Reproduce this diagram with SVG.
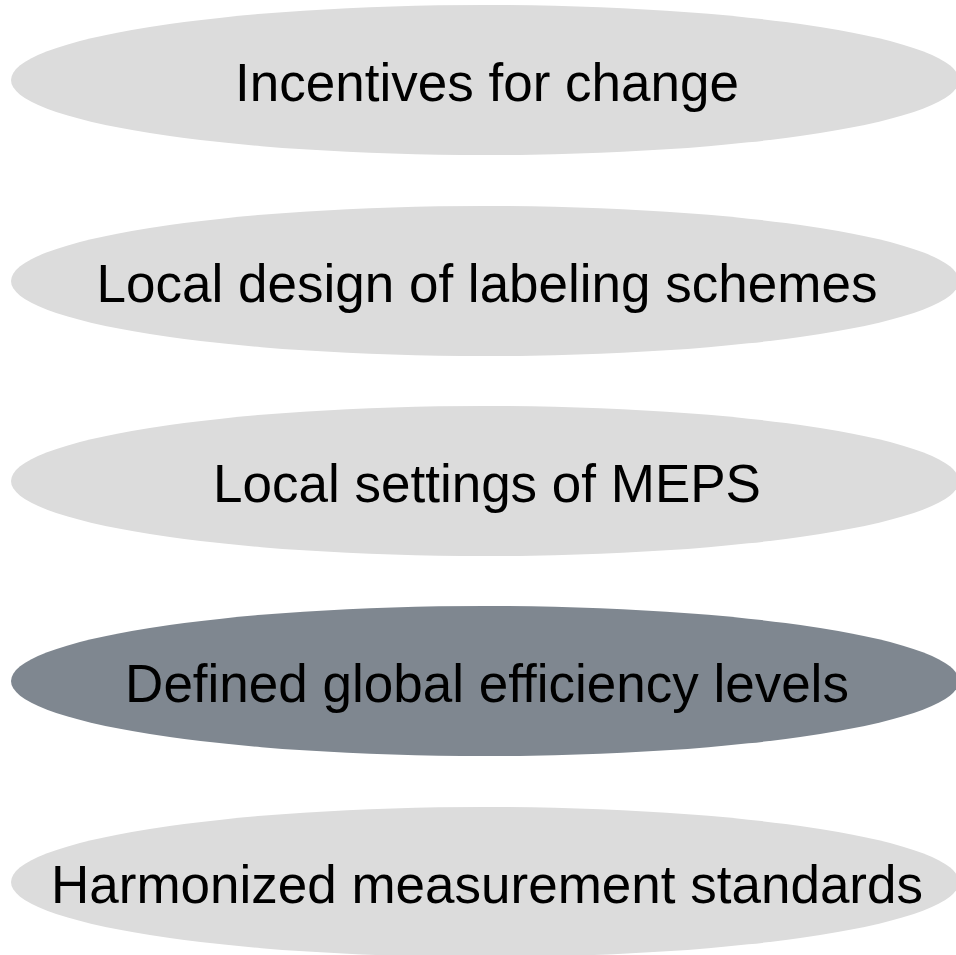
<svg xmlns="http://www.w3.org/2000/svg" width="956" height="955" viewBox="0 0 956 955">
<style>
.e{fill:#dcdcdc}
.d{fill:#7f8790}
text{font-family:"Liberation Sans",Arial,sans-serif;font-size:53px;fill:#000;text-anchor:middle}
</style>
<rect width="956" height="955" fill="#fff"/>
<g id="n1"><ellipse class="e" cx="485" cy="80" rx="474" ry="75"/><text x="487" y="101">Incentives for change</text></g>
<g id="n2"><ellipse class="e" cx="485" cy="281" rx="474" ry="75"/><text x="487" y="302">Local design of labeling schemes</text></g>
<g id="n3"><ellipse class="e" cx="485" cy="481" rx="474" ry="75"/><text x="487" y="502">Local settings of MEPS</text></g>
<g id="n4"><ellipse class="d" cx="485" cy="681" rx="474" ry="75"/><text x="487" y="702">Defined global efficiency levels</text></g>
<g id="n5"><ellipse class="e" cx="485" cy="882" rx="474" ry="75"/><text x="487" y="903">Harmonized measurement standards</text></g>
<g id="connectors"/>
</svg>
